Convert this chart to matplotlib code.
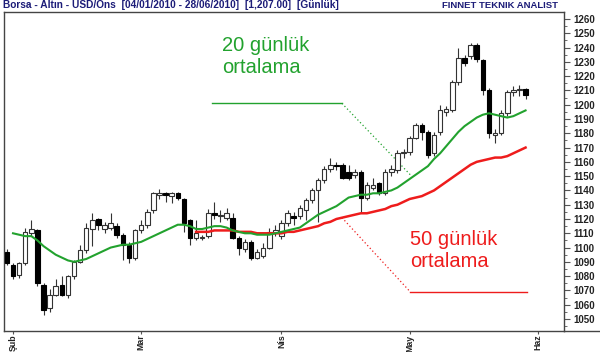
import matplotlib.pyplot as plt
from matplotlib.lines import Line2D
import numpy as np

plt.rcParams['font.family'] = ['Liberation Sans', 'DejaVu Sans']

# günlük mumlar (29 Ocak - 28 Mayis 2010)
opens = [1097, 1088, 1081, 1089, 1110, 1112, 1074, 1058, 1067, 1074,
         1067, 1080, 1090, 1098, 1113, 1120, 1113, 1114, 1115, 1109,
         1102, 1093, 1112, 1116, 1126, 1137, 1138, 1136, 1138, 1134,
         1119, 1107, 1107, 1108, 1124, 1122, 1121, 1121, 1107, 1099,
         1104, 1093, 1094, 1100, 1110, 1108, 1117, 1122, 1122, 1126,
         1133, 1140, 1147, 1155, 1158, 1158, 1153, 1151, 1153, 1135,
         1142, 1145, 1138, 1153, 1154, 1166, 1167, 1177, 1186, 1181,
         1166, 1181, 1195, 1196, 1216, 1233, 1234, 1242, 1231, 1210,
         1179, 1180, 1194, 1209, 1210, 1211]
highs = [1099, 1089, 1090, 1114, 1119, 1113, 1075, 1071, 1078, 1080,
         1081, 1091, 1102, 1117, 1124, 1121, 1118, 1124, 1117, 1110,
         1104, 1113, 1119, 1127, 1139, 1141, 1139, 1139, 1139, 1135,
         1120, 1119, 1109, 1127, 1132, 1126, 1128, 1124, 1108, 1106,
         1105, 1099, 1103, 1114, 1116, 1119, 1126, 1125, 1130, 1135,
         1142, 1149, 1157, 1163, 1160, 1159, 1158, 1155, 1154, 1146,
         1149, 1146, 1155, 1158, 1168, 1169, 1178, 1187, 1187, 1182,
         1181, 1200, 1199, 1217, 1240, 1235, 1243, 1243, 1232, 1212,
         1183, 1196, 1210, 1213, 1214, 1212]
lows = [1088, 1078, 1079, 1088, 1108, 1073, 1053, 1055, 1066, 1066,
        1065, 1078, 1089, 1096, 1101, 1112, 1110, 1112, 1107, 1091,
        1089, 1091, 1110, 1114, 1124, 1134, 1132, 1131, 1133, 1111,
        1102, 1105, 1105, 1107, 1120, 1118, 1119, 1106, 1095, 1097,
        1091, 1092, 1093, 1099, 1108, 1106, 1115, 1116, 1120, 1119,
        1131, 1118, 1145, 1153, 1154, 1148, 1147, 1149, 1125, 1133,
        1140, 1137, 1137, 1150, 1152, 1163, 1165, 1176, 1175, 1163,
        1164, 1179, 1192, 1195, 1214, 1227, 1232, 1230, 1207, 1177,
        1173, 1179, 1192, 1206, 1206, 1204]
closes = [1089, 1080, 1089, 1111, 1113, 1075, 1056, 1067, 1073, 1067,
          1080, 1090, 1098, 1114, 1119, 1116, 1116, 1117, 1109, 1102,
          1093, 1112, 1116, 1125, 1138, 1138, 1137, 1138, 1135, 1117,
          1107, 1110, 1107, 1124, 1123, 1122, 1124, 1107, 1100, 1104,
          1093, 1097, 1100, 1111, 1112, 1117, 1124, 1121, 1128, 1133,
          1140, 1147, 1155, 1158, 1157, 1149, 1149, 1153, 1135, 1144,
          1144, 1138, 1153, 1155, 1166, 1167, 1177, 1186, 1181, 1165,
          1179, 1196, 1197, 1216, 1233, 1229, 1242, 1232, 1210, 1180,
          1180, 1194, 1209, 1210, 1211, 1207]

nan = np.nan
ma20 = [nan, 1110, 1109, 1108, 1108, 1105, 1101, 1098, 1095, 1093,
        1091, 1090, 1091, 1092, 1094, 1096, 1098, 1100, 1101, 1102,
        1102, 1103, 1104, 1106, 1108, 1110, 1112, 1114, 1116, 1116,
        1115, 1113, 1113, 1114, 1115, 1115, 1114, 1112, 1111, 1110,
        1110, 1109, 1109, 1109, 1110, 1111, 1112, 1113, 1114, 1117,
        1120, 1123, 1125, 1127, 1129, 1132, 1135, 1136, 1137, 1137,
        1138, 1138, 1139, 1140, 1142, 1145, 1148, 1151, 1154, 1157,
        1162, 1166, 1171, 1176, 1181, 1185, 1188, 1191, 1193, 1194,
        1193, 1192, 1191, 1192, 1194, 1196]
ma50 = [nan] * 31 + [
        1111, 1111, 1111, 1112, 1112, 1112, 1112, 1111, 1111,
        1111, 1110, 1110, 1110, 1110, 1110, 1111, 1111, 1112, 1113,
        1114, 1115, 1117, 1118, 1120, 1121, 1122, 1123, 1124, 1124,
        1125, 1126, 1127, 1129, 1130, 1132, 1134, 1135, 1136, 1138,
        1140, 1143, 1146, 1149, 1152, 1155, 1158, 1160, 1161, 1162,
        1163, 1163, 1164, 1166, 1168, 1170]

month_labels = ['Şub', 'Mar', 'Nis', 'May', 'Haz']
month_pos = [1, 22, 45, 66, 87]
price_ticks = list(range(1050, 1261, 10))

navy = '#1c1c78'
green = '#22a22e'
red = '#ee1c1c'

fig = plt.figure(figsize=(6, 3.52), dpi=100)
ax = fig.add_axes([3.5 / 600, 21 / 352, 560.5 / 600, 319 / 352])

x = np.arange(len(closes))
o = np.array(opens)
c = np.array(closes)
up = c >= o
body_lo = np.minimum(o, c)
body_h = np.maximum(np.abs(c - o), 0.6)

ax.vlines(x, lows, highs, color='#333333', lw=0.8, zorder=2)
ax.bar(x[up], body_h[up], bottom=body_lo[up], width=0.74,
       color='white', edgecolor='#333333', lw=0.8, zorder=3)
ax.bar(x[~up], body_h[~up], bottom=body_lo[~up], width=0.74,
       color='black', edgecolor='black', lw=0.8, zorder=3)

ax.plot(x, ma50, color=red, lw=1.8, zorder=4)
ax.plot(x, ma20, color=green, lw=1.5, zorder=5)

# aciklamalar
ax.plot([33.6, 54.9], [1201, 1201], color=green, lw=1.0)
ax.plot([54.9, 66.1], [1201, 1151], color=green, lw=0.9, ls=(0, (1, 2)))
ax.text(35.3, 1248, '20 günlük\nortalama', color=green, fontsize=14.5,
        va='top', ha='left', linespacing=1.2)
ax.plot([54.9, 66.1], [1121, 1069], color=red, lw=0.9, ls=(0, (1, 2)))
ax.plot([66.1, 85.3], [1069, 1069], color=red, lw=1.0)
ax.text(66.1, 1112, '50 günlük\nortalama', color=red, fontsize=14.5,
        va='top', ha='left', linespacing=1.2)

ax.set_xlim(-0.56, 91.3)
ax.set_ylim(1041.6, 1264.9)

ax.yaxis.tick_right()
ax.set_yticks(price_ticks)
ax.set_yticklabels([str(p) for p in price_ticks], fontsize=7,
                   fontweight='bold', color='#222222')
ax.set_yticks(list(range(1045, 1265, 10)), minor=True)
ax.tick_params(axis='y', which='major', length=4, width=0.8, pad=3,
               color='#555555')
ax.tick_params(axis='y', which='minor', length=2, width=0.6, color='#555555')

ax.set_xticks(month_pos)
ax.set_xticklabels(month_labels, rotation=90, fontsize=6.3,
                   fontweight='bold', color='#222222')
ax.tick_params(axis='x', length=2, width=0.8, pad=0.5, color='#555555')

for s in ax.spines.values():
    s.set_color('#444444')
    s.set_linewidth(1.0)

fig.add_artist(Line2D([564 / 600, 1], [21 / 352, 21 / 352],
                      color='#444444', lw=1.0))

fig.text(3 / 600, 1 - 5.5 / 352,
         'Borsa - Altın - USD/Ons  [04/01/2010 - 28/06/2010]  [1,207.00]  [Günlük]',
         fontsize=7.3, fontweight='bold', color=navy, va='center', ha='left')
fig.text(558 / 600, 1 - 5.5 / 352, 'FINNET TEKNIK ANALIST', fontsize=6.8,
         fontweight='bold', color=navy, va='center', ha='right')

fig.savefig('out.png', dpi=100)
